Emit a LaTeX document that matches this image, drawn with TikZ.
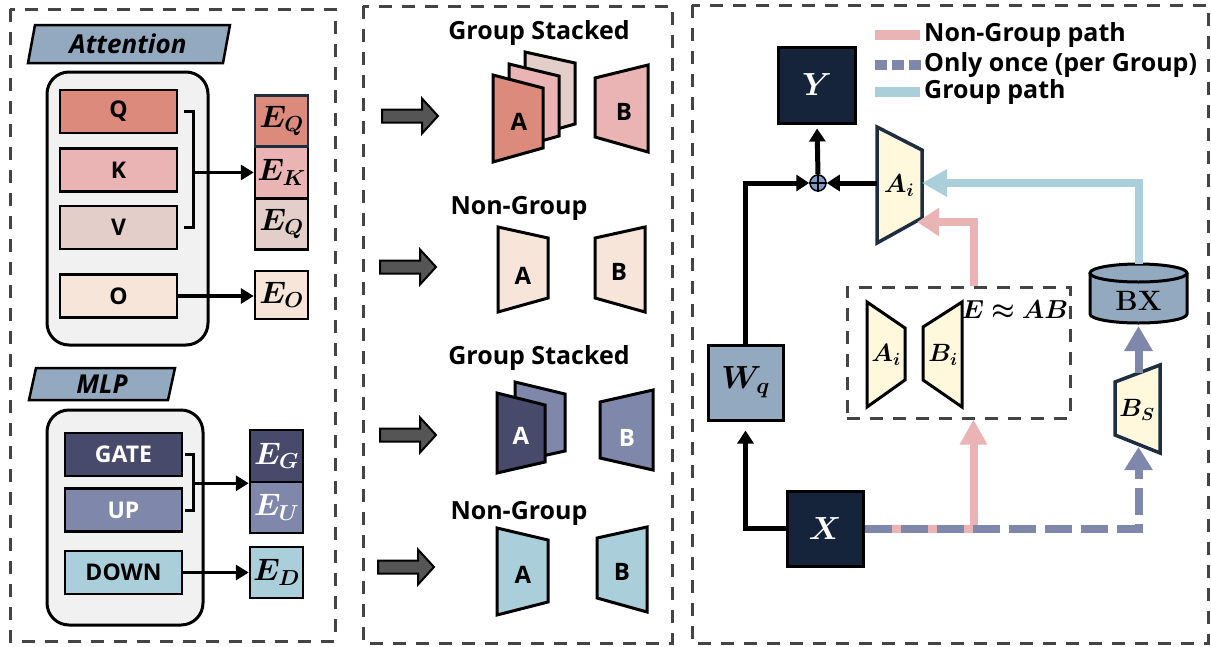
\RequirePackage{fix-cm}
\documentclass[tikz,border=0pt]{standalone}
\usepackage{amsmath}
\usepackage{bm}
\usepackage{fontspec}
\setsansfont{Open Sans}
\usetikzlibrary{arrows.meta}
\definecolor{dgray}{HTML}{444444}
\definecolor{cQ}{HTML}{DB8A7B}
\definecolor{cK}{HTML}{E9B4B3}
\definecolor{cV}{HTML}{E3CEC9}
\definecolor{cO}{HTML}{F8E5D9}
\definecolor{cG}{HTML}{474A6B}
\definecolor{cU}{HTML}{7F88AA}
\definecolor{cD}{HTML}{AACFDB}
\definecolor{steel}{HTML}{93A9C0}
\definecolor{navy}{HTML}{16243B}
\definecolor{navyb}{HTML}{1C2E40}
\definecolor{cream}{HTML}{FFF8DD}
\definecolor{panelbg}{HTML}{F1F1F1}
\definecolor{arrowgray}{HTML}{555555}
\definecolor{oplusblue}{HTML}{7D9CC9}
\tikzset{
  panel/.style={draw=dgray,line width=3pt,dash pattern=on 13pt off 10pt},
  sb/.style={font=\sffamily\bfseries\fontsize{#1}{#1}\selectfont},
  sbi/.style={font=\sffamily\bfseries\itshape\fontsize{#1}{#1}\selectfont},
  mth/.style={font=\fontsize{#1}{#1}\selectfont},
  tag/.style={draw=black,fill=steel,line width=2.5pt},
  container/.style={draw=black,fill=panelbg,line width=3pt,rounded corners=22pt,inner sep=0pt},
  wbox/.style={draw=black,line width=2.5pt,minimum width=117pt,minimum height=43pt,inner sep=0pt,sb=23},
  ebox/.style={draw=black,line width=2.5pt,minimum width=53pt,minimum height=51pt,inner sep=0pt,mth=31},
  blk/.style={line width=3.5pt,-{Triangle[length=13pt,width=15pt]}},
  bracket/.style={line width=3pt},
  trap/.style={draw=black,line width=3pt,line join=miter},
  ntrap/.style={draw=navyb,fill=cream,line width=3.5pt,line join=miter},
  sq/.style={draw=black,line width=3pt,minimum width=77pt,minimum height=76pt,inner sep=0pt,mth=32},
  rblk/.style={line width=5pt,-{Triangle[length=13pt,width=16pt]}},
  pinkp/.style={draw=cK,line width=8pt},
  grpp/.style={draw=cD,line width=8pt},
  oncep/.style={draw=cU,line width=8pt},
  blockarrow/.pic={\draw[fill=arrowgray,line width=2pt,line join=miter] (0,-6.5) -- (40,-6.5) -- (40,-17.5) -- (56,0) -- (40,17.5) -- (40,6.5) -- (0,6.5) -- cycle;}
}
\begin{document}
\begin{tikzpicture}[x=1pt,y=-1pt]
\useasboundingbox (0,0) rectangle (1211,646);
% ================= left panel =================
\draw[panel] (10,9) rectangle (335,641);
\draw[tag] (35,25) -- (230,25) -- (223,63) -- (28,63) -- cycle;
\node[sbi=26] (att) at (128,44) {Attention};
\node[container,minimum width=161pt,minimum height=273pt] (attbox) at (127.5,208.5) {};
\node[wbox,fill=cQ] (Q) at (118.5,111.5) {Q};
\node[wbox,fill=cK] (K) at (118.5,170) {K};
\node[wbox,fill=cV] (V) at (118.5,227.5) {V};
\node[wbox,fill=cO] (O) at (118.5,296) {O};
\node[ebox,fill=cK] (EK) at (281.5,172.5) {$\bm{E_K}$};
\node[ebox,fill=cV] (EV) at (281.5,224) {$\bm{E_Q}$};
\node[ebox,fill=cQ,draw=navyb] (EQ) at (281.5,121) {$\bm{E_Q}$};
\node[ebox,fill=cO,minimum height=48pt] (EO) at (281.5,295) {$\bm{E_O}$};
\draw[bracket] ([xshift=6pt]Q.east) -| ([xshift=15pt]V.east) -- ([xshift=6pt]V.east);
\draw[blk] ([xshift=15pt]Q.east |- EK.west) -- (EK.west);
\draw[blk] (O.east) -- (O.east -| EO.west);
\draw[tag] (36,368) -- (175,368) -- (168,400) -- (29,400) -- cycle;
\node[sbi=26] (mlp) at (102,384) {MLP};
\node[container,minimum width=156pt,minimum height=215pt] (mlpbox) at (125,517.5) {};
\node[wbox,fill=cG,text=white] (GATE) at (123.5,454.5) {GATE};
\node[wbox,fill=cU,text=white] (UP) at (123.5,510) {UP};
\node[wbox,fill=cD] (DOWN) at (123.5,572.5) {DOWN};
\node[ebox,fill=cG,text=white,minimum height=52pt] (EG) at (276.5,456) {$\bm{E_G}$};
\node[ebox,fill=cU,text=white] (EU) at (276.5,507.5) {$\bm{E_U}$};
\node[ebox,fill=cD] (ED) at (276.5,572.5) {$\bm{E_D}$};
\draw[bracket] ([xshift=2pt]GATE.east) -| ([xshift=10pt]UP.east) -- ([xshift=2pt]UP.east);
\draw[blk] ([xshift=10pt]GATE.east |- EG.south west) -- (EG.south west);
\draw[blk] (DOWN.east) -- (DOWN.east -| ED.west);
% ================= middle panel =================
\draw[panel] (363,6) rectangle (672,643);
\pic at (382,116) {blockarrow};
\pic at (380,267) {blockarrow};
\pic at (380,435) {blockarrow};
\pic at (378,567) {blockarrow};
\node[sb=25] (gs1) at (539,33) {Group Stacked};
\node[sb=25] (ng1) at (519,208) {Non-Group};
\node[sb=25] (gs2) at (539,358) {Group Stacked};
\node[sb=25] (ng2) at (519,513) {Non-Group};
% row 1 stacked
\draw[trap,fill=cV] (525,52) -- (575,63) -- (575,124) -- (525,138) -- cycle;
\draw[trap,fill=cK] (509,64) -- (559,76) -- (559,136) -- (509,150) -- cycle;
\draw[trap,fill=cQ] (493,75) -- (543,88) -- (543,148) -- (493,162) -- cycle;
\node[sb=24] (a1) at (519,122) {A};
\draw[trap,fill=cK] (595,78) -- (648,65) -- (648,152) -- (595,137) -- cycle;
\node[sb=24] (b1) at (624,112) {B};
% row 2
\draw[trap,fill=cO] (498,227) -- (548,238) -- (548,298) -- (498,312) -- cycle;
\node[sb=24] (a2) at (523,276) {A};
\draw[trap,fill=cO] (595,238) -- (645,227) -- (645,312) -- (595,298) -- cycle;
\node[sb=24] (b2) at (619,272) {B};
% row 3 stacked
\draw[trap,fill=cU] (515,382) -- (565,394) -- (565,451) -- (515,462) -- cycle;
\draw[trap,fill=cG] (497,393) -- (545,405) -- (545,462) -- (497,473) -- cycle;
\node[sb=24,text=white] (a3) at (521,436) {A};
\draw[trap,fill=cU] (600,402) -- (653,390) -- (653,470) -- (600,458) -- cycle;
\node[sb=24,text=white] (b3) at (627,438) {B};
% row 4
\draw[trap,fill=cD] (497,528) -- (548,540) -- (548,602) -- (497,615) -- cycle;
\node[sb=24] (a4) at (523,575) {A};
\draw[trap,fill=cD] (597,538) -- (647,527) -- (647,612) -- (597,598) -- cycle;
\node[sb=24] (b4) at (622,572) {B};
% ================= right panel =================
\draw[panel] (692,5) rectangle (1208,643);
% legend
\coordinate (l1a) at (875,35); \coordinate (l1b) at (920,35);
\coordinate (l2a) at (875,65); \coordinate (l2b) at (921,65);
\coordinate (l3a) at (875,92); \coordinate (l3b) at (920,92);
\draw[pinkp,line width=10pt] (l1a) -- (l1b);
\draw[oncep,line width=10pt,dash pattern=on 12pt off 5pt] (l2a) -- (l2b);
\draw[grpp,line width=10pt] (l3a) -- (l3b);
\node[sb=25,anchor=west,inner sep=0pt] (t1) at (924,35) {Non-Group path};
\node[sb=25,anchor=west,inner sep=0pt] (t2) at (924,65) {Only once (per Group)};
\node[sb=25,anchor=west,inner sep=0pt] (t3) at (924,92) {Group path};
% Y, oplus, Wq, X
\node[sq,fill=navy,text=white] (Y) at (817,85) {$\bm{Y}$};
\node[circle,draw=black,fill=oplusblue,line width=1.5pt,minimum size=16pt,inner sep=0pt] (plus) at (818,183) {};
\draw[line width=1.5pt] (plus.north) -- (plus.south) (plus.west) -- (plus.east);
\node[sq,fill=steel,minimum width=75pt,minimum height=75pt] (Wq) at (745.5,382.5) {$\bm{W_q}$};
\node[sq,fill=navy,text=white,minimum width=76pt,minimum height=75pt] (X) at (825,528.5) {$\bm{X}$};
\draw[rblk,shorten >=4pt] (plus.north) -- (Y.south);
\draw[rblk] (Wq.north) |- (plus.west);
\draw[rblk,shorten >=9pt] (X.west) -| (Wq.south);
% big A_i
\draw[ntrap] (877,127) -- (922,150) -- (922,218) -- (877,243) -- cycle;
\node[mth=26] (Ai) at (899,186) {$\bm{A_i}$};
\coordinate (AiL) at (877,183);
\coordinate (AiR) at (922,183);
\coordinate (AiLow) at (917,222);
\draw[rblk] (AiL) -- (plus.east);
% dashed E box
\node[draw=dgray,line width=3pt,dash pattern=on 13pt off 10pt,minimum width=223pt,minimum height=131pt,inner sep=0pt] (EB) at (958.5,352.5) {};
\draw[trap,fill=cream] (867,302) -- (905,328) -- (905,380) -- (867,407) -- cycle;
\node[mth=25] (Ai2) at (886,355) {$\bm{A_i}$};
\draw[trap,fill=cream] (923,327) -- (962,302) -- (962,407) -- (923,380) -- cycle;
\node[mth=25] (Bi2) at (943,355) {$\bm{B_i}$};
\node[mth=26] (eq) at (1015,310) {$\bm{E\approx AB}$};
% BX cylinder
\coordinate (BXtop) at (1138.5,264);
\coordinate (BXbot) at (1138.5,326);
\draw[fill=steel,line width=3pt] (1090,273) -- (1090,314) arc[start angle=180,end angle=0,x radius=48.5,y radius=9] -- (1187,273);
\draw[fill=steel,line width=3pt] (1138.5,273) ellipse [x radius=48.5,y radius=9];
\node[font=\bfseries\fontsize{28}{28}\selectfont] (BX) at (1138.5,301) {BX};
% B_S
\draw[ntrap] (1115,382) -- (1160,365) -- (1160,453) -- (1115,435) -- cycle;
\node[mth=25] (BS) at (1137,410) {$\bm{B_S}$};
\coordinate (BStop) at (1138.5,373);
\coordinate (BSbot) at (1138.5,447);
% paths
\coordinate (fork) at (973.5,528.5);
\draw[pinkp] (X.east) -- ([xshift=4pt]fork);
\draw[pinkp,-{Triangle[length=25pt,width=26pt]}] (fork) -- (EB.south -| fork);
\draw[pinkp,-{Triangle[length=22pt,width=27pt]}] (EB.north -| fork) |- (AiLow);
\draw[grpp,line join=miter,-{Triangle[length=25pt,width=26pt]}] (BXtop) |- (AiR);
\draw[oncep,dash pattern=on 27pt off 9pt,-{Triangle[length=23pt,width=27pt]}] (X.east) -| (BSbot);
\draw[oncep,-{Triangle[length=25pt,width=27pt]}] (BStop) -- (BXbot);
\end{tikzpicture}
\end{document}
